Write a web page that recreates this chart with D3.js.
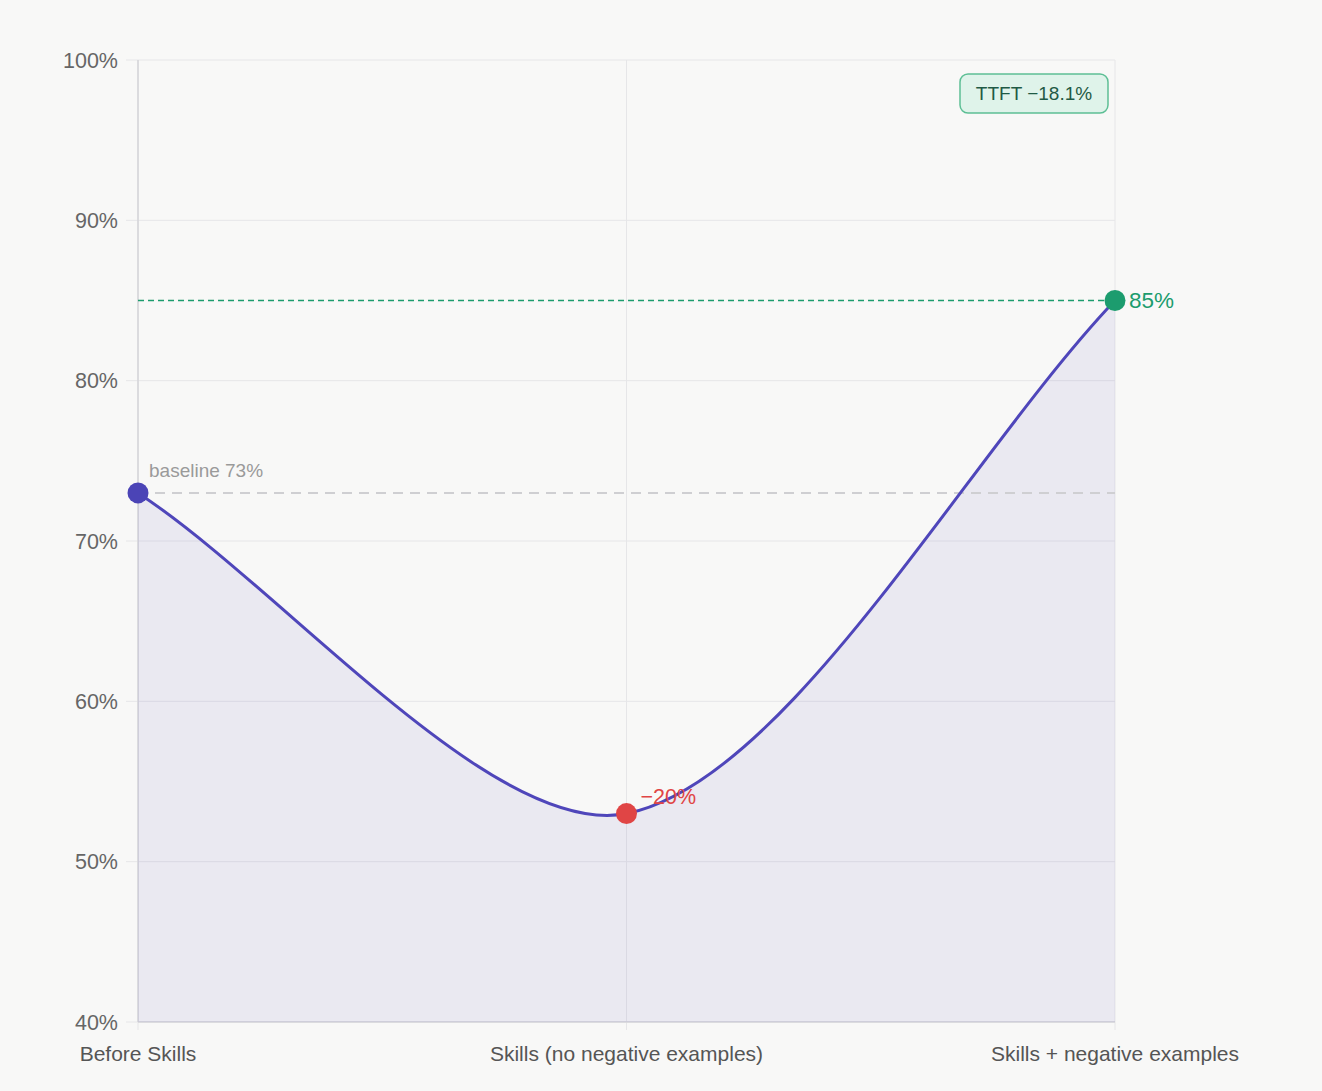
<!DOCTYPE html>
<html lang="en">
<head>
  <meta charset="UTF-8">
  <title>Skills accuracy</title>
  <script src="https://d3js.org/d3.v7.min.js"></script>
  <style>
    body {
      margin: 0;
      padding: 0;
      background-color: #f8f8f7;
      font-family: Helvetica, Arial, 'Liberation Sans', sans-serif;
    }
    .grid line { stroke: #e6e6e8; stroke-width: 1; }
    .tick { fill: #666; font-size: 21.5px; }
    .xlabel { fill: #555; font-size: 21px; }
  </style>
</head>
<body>
  <svg id="chart" width="1322" height="1091"></svg>
  <script>
    // data
    var categories = ["Before Skills", "Skills (no negative examples)", "Skills + negative examples"];
    var accuracy = [73, 53, 85];
    var yTicks = [40, 50, 60, 70, 80, 90, 100];
    var pointColors = ["#4b44b6", "#e04545", "#1c9c6e"];
    var baseline = 73;
    var target = 85;
    var badgeText = "TTFT \u221218.1%";

    var margin = { top: 60, right: 207, bottom: 69, left: 138 };
    var svgW = 1322, svgH = 1091;
    var width = svgW - margin.left - margin.right;
    var height = svgH - margin.top - margin.bottom;

    var svg = d3.select("#chart");
    var g = svg.append("g").attr("transform", "translate(" + margin.left + "," + margin.top + ")");

    var x = d3.scalePoint().domain(categories).range([0, width]);
    var y = d3.scaleLinear().domain([40, 100]).range([height, 0]);

    // spline curve with distance-weighted control points (tension 0.3)
    function splineCurve(tension) {
      return function(context) {
        var pts;
        return {
          lineStart: function() { pts = []; },
          point: function(px, py) { pts.push([+px, +py]); },
          lineEnd: function() {
            var n = pts.length;
            if (!n) return;
            var cpPrev = [], cpNext = [];
            for (var i = 0; i < n; i++) {
              var p = pts[i - 1] || pts[i], c = pts[i], q = pts[i + 1] || pts[i];
              var d01 = Math.hypot(c[0] - p[0], c[1] - p[1]);
              var d12 = Math.hypot(q[0] - c[0], q[1] - c[1]);
              var s01 = d01 / (d01 + d12) || 0, s12 = d12 / (d01 + d12) || 0;
              var fa = tension * s01, fb = tension * s12;
              cpPrev[i] = [c[0] - fa * (q[0] - p[0]), c[1] - fa * (q[1] - p[1])];
              cpNext[i] = [c[0] + fb * (q[0] - p[0]), c[1] + fb * (q[1] - p[1])];
            }
            context.moveTo(pts[0][0], pts[0][1]);
            for (var j = 1; j < n; j++) {
              context.bezierCurveTo(cpNext[j - 1][0], cpNext[j - 1][1], cpPrev[j][0], cpPrev[j][1], pts[j][0], pts[j][1]);
            }
          }
        };
      };
    }

    // grid
    var grid = g.append("g").attr("class", "grid");
    grid.selectAll("line.h").data(yTicks).enter().append("line")
        .attr("x1", -12).attr("x2", width)
        .attr("y1", d => y(d)).attr("y2", d => y(d));
    grid.selectAll("line.v").data(categories).enter().append("line")
        .attr("x1", d => x(d)).attr("x2", d => x(d))
        .attr("y1", 0).attr("y2", height + 8);

    // axis lines
    g.append("line").attr("x1", 0).attr("x2", 0).attr("y1", 0).attr("y2", height)
        .attr("stroke", "#d4d4d8").attr("stroke-width", 1.5);
    g.append("line").attr("x1", 0).attr("x2", width).attr("y1", height).attr("y2", height)
        .attr("stroke", "#d4d4d8").attr("stroke-width", 1.5);

    // y tick labels
    g.selectAll("text.ytick").data(yTicks).enter().append("text")
        .attr("class", "tick")
        .attr("x", -20).attr("y", d => y(d)).attr("dy", "0.35em")
        .attr("text-anchor", "end")
        .text(d => d + "%");

    // x labels
    g.selectAll("text.xlabel").data(categories).enter().append("text")
        .attr("class", "xlabel")
        .attr("x", d => x(d)).attr("y", height + 32)
        .attr("dy", "0.35em")
        .attr("text-anchor", "middle")
        .text(d => d);

    var pts = categories.map((c, i) => ({ c: c, v: accuracy[i] }));
    var line = d3.line().x(d => x(d.c)).y(d => y(d.v)).curve(splineCurve(0.3));

    // area under the line
    var linePath = line(pts);
    g.append("path")
        .attr("d", linePath + "L" + x(categories[categories.length - 1]) + "," + y(40) + "L" + x(categories[0]) + "," + y(40) + "Z")
        .attr("fill", "#5046b4").attr("fill-opacity", 0.08);

    // reference lines
    g.append("line").attr("x1", 0).attr("x2", width)
        .attr("y1", y(baseline)).attr("y2", y(baseline))
        .attr("stroke", "#cfcfd2").attr("stroke-width", 2).attr("stroke-dasharray", "10,7");
    g.append("line").attr("x1", 0).attr("x2", width)
        .attr("y1", y(target)).attr("y2", y(target))
        .attr("stroke", "#1c9c6e").attr("stroke-width", 1.5).attr("stroke-dasharray", "6,4");

    // line
    g.append("path").attr("d", linePath)
        .attr("fill", "none").attr("stroke", "#4f46ba").attr("stroke-width", 3);

    // dots
    g.selectAll("circle.pt").data(pts).enter().append("circle")
        .attr("cx", d => x(d.c)).attr("cy", d => y(d.v)).attr("r", 10.5)
        .attr("fill", (d, i) => pointColors[i]);

    // labels
    g.append("text").attr("x", x(categories[0]) + 11).attr("y", y(baseline) - 23)
        .attr("dy", "0.35em")
        .attr("fill", "#9a9a9a").style("font-size", "19px")
        .text("baseline " + baseline + "%");
    g.append("text").attr("x", x(categories[1]) + 14).attr("y", y(accuracy[1]) - 17)
        .attr("dy", "0.35em")
        .attr("fill", "#e04545").style("font-size", "21.5px")
        .text("\u2212" + (baseline - accuracy[1]) + "%");
    g.append("text").attr("x", x(categories[2]) + 14).attr("y", y(accuracy[2]))
        .attr("dy", "0.35em")
        .attr("fill", "#1c9c6e").style("font-size", "22.5px")
        .text(accuracy[2] + "%");

    // badge
    var badge = g.append("g").attr("transform", "translate(" + (width - 155) + ",14)");
    badge.append("rect").attr("width", 148).attr("height", 39).attr("rx", 8)
        .attr("fill", "#dff3ea").attr("stroke", "#5dbf95").attr("stroke-width", 1.5);
    badge.append("text").attr("x", 74).attr("y", 19.5).attr("dy", "0.35em")
        .attr("text-anchor", "middle")
        .attr("fill", "#1f5a45").style("font-size", "19px")
        .text(badgeText);
  </script>
</body>
</html>
